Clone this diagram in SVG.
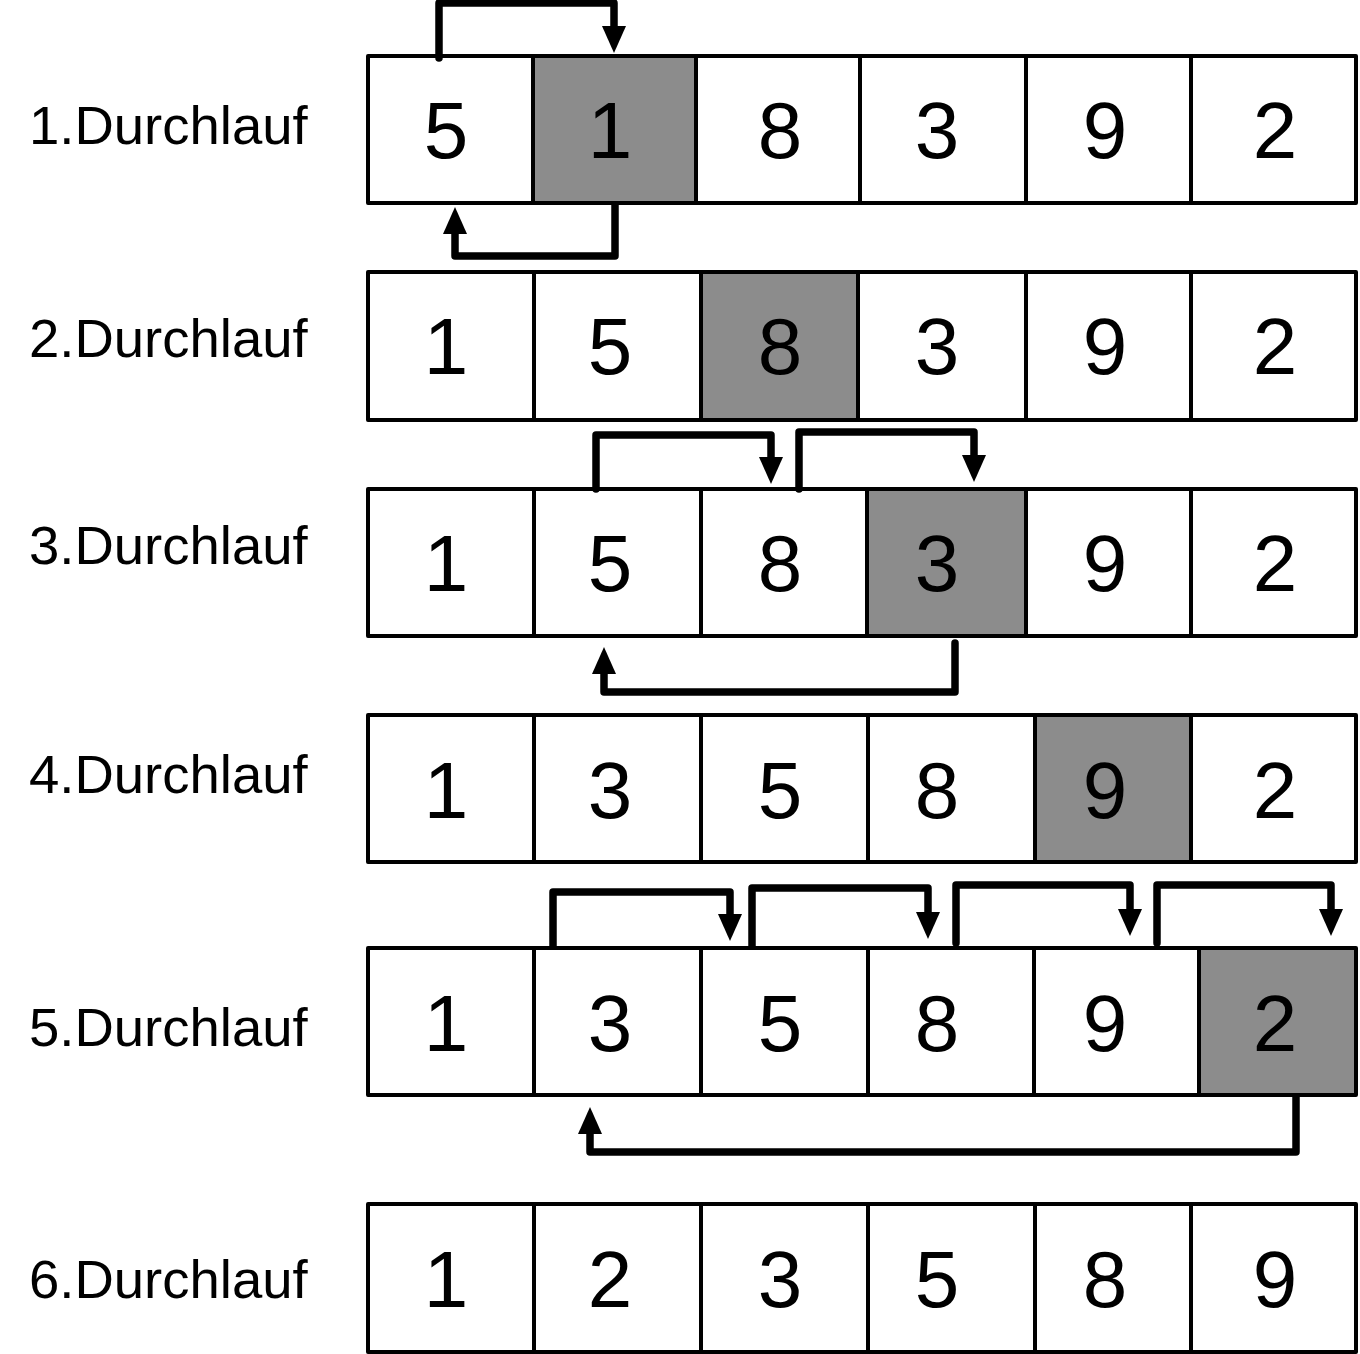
<svg xmlns="http://www.w3.org/2000/svg" width="1360" height="1354" viewBox="0 0 1360 1354">
<style>
.c{fill:#fff;stroke:#000;stroke-width:4;stroke-linejoin:round}
.g{fill:#8c8c8c;stroke:#000;stroke-width:4;stroke-linejoin:round}
.d{font-family:"Liberation Sans",Arial,sans-serif;font-size:80px;text-anchor:middle;fill:#000}
.l{font-family:"Liberation Sans",Arial,sans-serif;font-size:54.5px;fill:#000}
.a{fill:none;stroke:#000;stroke-width:7.5;stroke-linecap:round;stroke-linejoin:round;marker-end:url(#ah)}
</style>
<defs>
<marker id="ah" markerUnits="userSpaceOnUse" markerWidth="27" markerHeight="24" refX="12" refY="12" orient="auto" viewBox="0 0 27 24">
<path d="M0,0 L27,12 L0,24 z" fill="#000"/>
</marker>
</defs>
<rect width="1360" height="1354" fill="#fff"/>

<g id="row1">
<text class="l" x="29" y="144">1.Durchlauf</text>
<rect class="c" x="368" y="56" width="165" height="147"/>
<rect class="g" x="533" y="56" width="163" height="147"/>
<rect class="c" x="696" y="56" width="164" height="147"/>
<rect class="c" x="860" y="56" width="166" height="147"/>
<rect class="c" x="1026" y="56" width="165" height="147"/>
<rect class="c" x="1191" y="56" width="165" height="147"/>
<text class="d" x="446" y="158">5</text>
<text class="d" x="610" y="158">1</text>
<text class="d" x="780" y="158">8</text>
<text class="d" x="937" y="158">3</text>
<text class="d" x="1105" y="158">9</text>
<text class="d" x="1275" y="158">2</text>
</g>

<g id="row2">
<text class="l" x="29" y="357">2.Durchlauf</text>
<rect class="c" x="368" y="272" width="166" height="148"/>
<rect class="c" x="534" y="272" width="167" height="148"/>
<rect class="g" x="701" y="272" width="157" height="148"/>
<rect class="c" x="858" y="272" width="168" height="148"/>
<rect class="c" x="1026" y="272" width="165" height="148"/>
<rect class="c" x="1191" y="272" width="165" height="148"/>
<text class="d" x="446" y="374">1</text>
<text class="d" x="610" y="374">5</text>
<text class="d" x="780" y="374">8</text>
<text class="d" x="937" y="374">3</text>
<text class="d" x="1105" y="374">9</text>
<text class="d" x="1275" y="374">2</text>
</g>

<g id="row3">
<text class="l" x="29" y="564">3.Durchlauf</text>
<rect class="c" x="368" y="489" width="166" height="147"/>
<rect class="c" x="534" y="489" width="167" height="147"/>
<rect class="c" x="701" y="489" width="166" height="147"/>
<rect class="g" x="867" y="489" width="159" height="147"/>
<rect class="c" x="1026" y="489" width="165" height="147"/>
<rect class="c" x="1191" y="489" width="165" height="147"/>
<text class="d" x="446" y="591">1</text>
<text class="d" x="610" y="591">5</text>
<text class="d" x="780" y="591">8</text>
<text class="d" x="937" y="591">3</text>
<text class="d" x="1105" y="591">9</text>
<text class="d" x="1275" y="591">2</text>
</g>

<g id="row4">
<text class="l" x="29" y="793">4.Durchlauf</text>
<rect class="c" x="368" y="715" width="166" height="147"/>
<rect class="c" x="534" y="715" width="167" height="147"/>
<rect class="c" x="701" y="715" width="167" height="147"/>
<rect class="c" x="868" y="715" width="167" height="147"/>
<rect class="g" x="1035" y="715" width="156" height="147"/>
<rect class="c" x="1191" y="715" width="165" height="147"/>
<text class="d" x="446" y="818">1</text>
<text class="d" x="610" y="818">3</text>
<text class="d" x="780" y="818">5</text>
<text class="d" x="937" y="818">8</text>
<text class="d" x="1105" y="818">9</text>
<text class="d" x="1275" y="818">2</text>
</g>

<g id="row5">
<text class="l" x="29" y="1046">5.Durchlauf</text>
<rect class="c" x="368" y="948" width="166" height="147"/>
<rect class="c" x="534" y="948" width="167" height="147"/>
<rect class="c" x="701" y="948" width="167" height="147"/>
<rect class="c" x="868" y="948" width="166" height="147"/>
<rect class="c" x="1034" y="948" width="165" height="147"/>
<rect class="g" x="1199" y="948" width="157" height="147"/>
<text class="d" x="446" y="1051">1</text>
<text class="d" x="610" y="1051">3</text>
<text class="d" x="780" y="1051">5</text>
<text class="d" x="937" y="1051">8</text>
<text class="d" x="1105" y="1051">9</text>
<text class="d" x="1275" y="1051">2</text>
</g>

<g id="row6">
<text class="l" x="29" y="1298">6.Durchlauf</text>
<rect class="c" x="368" y="1204" width="166" height="148"/>
<rect class="c" x="534" y="1204" width="167" height="148"/>
<rect class="c" x="701" y="1204" width="167" height="148"/>
<rect class="c" x="868" y="1204" width="167" height="148"/>
<rect class="c" x="1035" y="1204" width="156" height="148"/>
<rect class="c" x="1191" y="1204" width="165" height="148"/>
<text class="d" x="446" y="1307">1</text>
<text class="d" x="610" y="1307">2</text>
<text class="d" x="780" y="1307">3</text>
<text class="d" x="937" y="1307">5</text>
<text class="d" x="1105" y="1307">8</text>
<text class="d" x="1275" y="1307">9</text>
</g>

<g id="connectors">
<path class="a" d="M439,58 V3 H614 V38"/>
<path class="a" d="M615,205 V256 H455 V222"/>
<path class="a" d="M596,489 V435 H771 V469"/>
<path class="a" d="M799,489 V432 H974 V467"/>
<path class="a" d="M955,643 V692 H604 V662"/>
<path class="a" d="M553,946 V892 H730 V926"/>
<path class="a" d="M752,946 V888 H928 V924"/>
<path class="a" d="M956,943 V885 H1130 V921"/>
<path class="a" d="M1157,943 V885 H1331 V921"/>
<path class="a" d="M1296,1097 V1152 H590 V1122"/>
</g>
</svg>
